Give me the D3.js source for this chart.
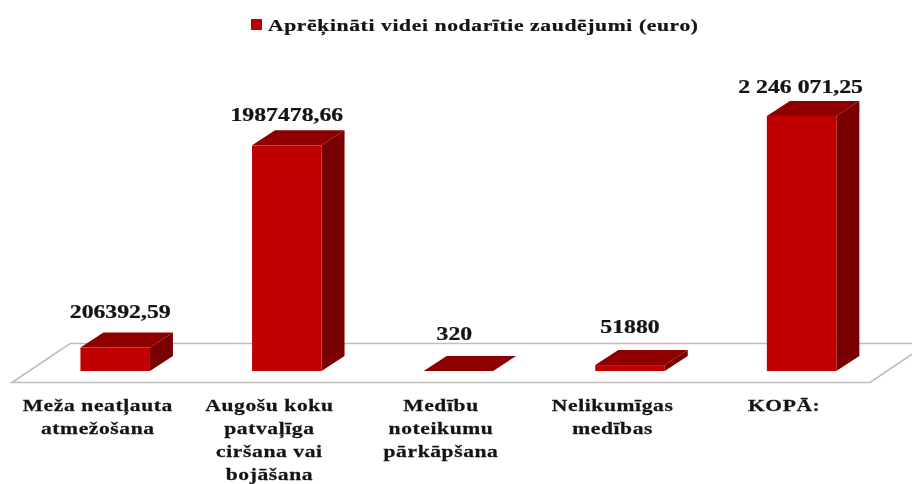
<!DOCTYPE html>
<html><head><meta charset="utf-8">
<script src="https://cdnjs.cloudflare.com/ajax/libs/d3/7.9.0/d3.min.js"></script>
<style>
html,body{margin:0;padding:0;background:#fff;overflow:hidden}
svg{display:block;filter:blur(.45px)}
text{font-family:"Liberation Serif",serif;font-weight:bold;fill:#141414;stroke:#141414;stroke-width:.25px}
</style></head><body>
<script>
const categories = [
  ["Meža neatļauta","atmežošana"],
  ["Augošu koku","patvaļīga","ciršana vai","bojāšana"],
  ["Medību","noteikumu","pārkāpšana"],
  ["Nelikumīgas","medības"],
  ["KOPĀ:"]
];
const values = [206392.59, 1987478.66, 320, 51880, 2246071.25];
const valueLabels = ["206392,59","1987478,66","320","51880","2 246 071,25"];
const seriesName = "Aprēķināti videi nodarītie zaudējumi (euro)";

const W=912,H=484;
const floorL=12,floorR=870,floorFront=382.5,floorBack=343.5,floorDx=58;
const base=371, barShift=17.4, depthX=23, depthY=15;
const labelNudge=[[5,-15],[0,-9],[-4,-16],[0,-17],[-1,-8]];
const C={front:"#c00000",top:"#8e0000",side:"#780000",floor:"#bdbdbd"};

const svg=d3.select("body").append("svg").attr("width",W).attr("height",H);
const idx=d3.range(categories.length);
const x=d3.scaleBand().domain(idx).range([floorL,floorR]).paddingInner(0.595).paddingOuter(0.2975);
const y=d3.scaleLinear().domain([0,d3.max(values)]).range([base,116]);
const line=d3.line();

svg.append("path").attr("fill","#fff").attr("stroke",C.floor).attr("stroke-width",1.6)
  .attr("d",line([[floorL,floorFront],[floorR,floorFront],[floorR+floorDx,floorBack],[floorL+floorDx,floorBack]])+"Z");

const bars=svg.selectAll("g.bar").data(idx).join("g").attr("class","bar");
const X0=i=>x(i)+barShift, X1=i=>x(i)+barShift+x.bandwidth();
bars.append("path").attr("fill",C.side).attr("d",i=>line([[X1(i),base],[X1(i)+depthX,base-depthY],[X1(i)+depthX,y(values[i])-depthY],[X1(i),y(values[i])]])+"Z");
bars.append("path").attr("fill",C.top).attr("d",i=>line([[X0(i),y(values[i])],[X0(i)+depthX,y(values[i])-depthY],[X1(i)+depthX,y(values[i])-depthY],[X1(i),y(values[i])]])+"Z");
bars.append("rect").attr("fill",C.front).attr("x",X0).attr("width",x.bandwidth()).attr("y",i=>y(values[i])).attr("height",i=>base-y(values[i]));

const stretched=(sel,size,sx,px,py)=>sel.attr("text-anchor","middle").attr("font-size",size)
  .attr("transform",(d,i)=>`translate(${px(d,i)},${py(d,i)}) scale(${sx},1)`);

stretched(svg.selectAll("text.val").data(idx).join("text").attr("class","val").text(i=>valueLabels[i]),
  18,1.32,i=>x(i)+barShift+x.bandwidth()/2+labelNudge[i][0],i=>y(values[i])-depthY+labelNudge[i][1]);

const catData=idx.flatMap(i=>categories[i].map((t,j)=>({i,j,t})));
stretched(svg.selectAll("text.cat").data(catData).join("text").attr("class","cat").attr("letter-spacing",.5).text(d=>d.t),
  17.5,1.23,d=>x(d.i)+x.bandwidth()/2,d=>411+d.j*23);

svg.append("rect").attr("x",251).attr("y",19).attr("width",11).attr("height",11).attr("fill",C.front);
svg.append("text").attr("font-size",17.5).attr("letter-spacing",.5)
  .attr("transform","translate(268,31) scale(1.235,1)").text(seriesName);
</script></body></html>
